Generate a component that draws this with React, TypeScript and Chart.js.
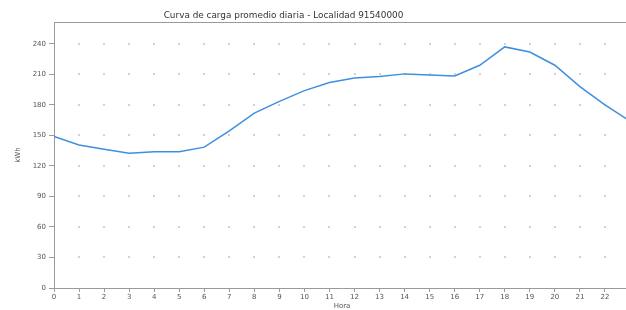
import React, { useEffect, useRef } from 'react';
import { Chart, registerables } from 'chart.js';

Chart.register(...registerables);

const chartTitle = 'Curva de carga promedio diaria - Localidad 91540000';
const xAxisTitle = 'Hora';
const yAxisTitle = 'kWh';
const hours = [0, 1, 2, 3, 4, 5, 6, 7, 8, 9, 10, 11, 12, 13, 14, 15, 16, 17, 18, 19, 20, 21, 22, 23];
const loadKwh = [149, 140.5, 136.5, 132.5, 134, 134, 138.5, 154.5, 172, 183.5, 194, 202, 206.5, 208, 210.5, 209.5, 208.5, 219, 237, 232, 219, 198, 180, 164];
const yMin = 0;
const yMax = 261.5;
const yStep = 30;

const FONT = '"DejaVu Sans", sans-serif';

const dotGridPlugin = {
  id: 'dotGrid',
  beforeDatasetsDraw(chart: any) {
    const { ctx, chartArea, scales } = chart;
    const xs = scales.x;
    const ys = scales.y;
    ctx.save();
    // top frame line
    ctx.strokeStyle = '#9a9a9a';
    ctx.lineWidth = 1;
    ctx.beginPath();
    ctx.moveTo(chartArea.left, Math.round(chartArea.top) + 0.5);
    ctx.lineTo(chartArea.right, Math.round(chartArea.top) + 0.5);
    ctx.stroke();
    ctx.fillStyle = '#d2d2d2';
    for (const xt of xs.ticks) {
      if (xt.value === 0) continue;
      const px = xs.getPixelForValue(xt.value);
      for (const yt of ys.ticks) {
        if (yt.value === 0) continue;
        const py = ys.getPixelForValue(yt.value);
        ctx.fillRect(Math.round(px) - 1, Math.round(py) - 1, 2, 2);
      }
    }
    ctx.restore();
  },
};

export default function App() {
  const canvasRef = useRef<HTMLCanvasElement | null>(null);

  useEffect(() => {
    document.body.style.margin = '0';
    const canvas = canvasRef.current;
    if (!canvas) return;
    const chart = new Chart(canvas, {
      type: 'line',
      data: {
        datasets: [
          {
            data: hours.map((h, i) => ({ x: h, y: loadKwh[i] })),
            borderColor: '#3f8fe0',
            borderWidth: 1.5,
            pointRadius: 0,
            fill: false,
            tension: 0,
          },
        ],
      },
      options: {
        animation: false,
        responsive: false,
        maintainAspectRatio: false,
        layout: { padding: { top: 22, left: 0, right: 10, bottom: 0 } },
        plugins: {
          legend: { display: false },
          title: { display: false },
          tooltip: { enabled: false },
        },
        scales: {
          x: {
            type: 'linear',
            min: 0,
            max: 23,
            afterFit: (s: any) => { s.height = 22; },
            ticks: {
              stepSize: 1,
              autoSkip: false,
              maxRotation: 0,
              padding: 1,
              color: '#555',
              font: { family: FONT, size: 7 },
            },
            grid: {
              drawOnChartArea: false,
              drawTicks: true,
              tickLength: 4,
              color: '#9a9a9a',
            },
            border: { display: true, color: '#9a9a9a', width: 1 },
            title: {
              display: true,
              text: xAxisTitle,
              color: '#555',
              font: { family: FONT, size: 7, lineHeight: 1 },
              padding: { top: 0, bottom: 0 },
            },
          },
          y: {
            type: 'linear',
            min: yMin,
            max: yMax,
            afterFit: (s: any) => { s.width = 54; },
            ticks: {
              stepSize: yStep,
              includeBounds: false,
              padding: 3,
              color: '#555',
              font: { family: FONT, size: 7 },
            },
            grid: {
              drawOnChartArea: false,
              drawTicks: true,
              tickLength: 5,
              color: '#9a9a9a',
            },
            border: { display: true, color: '#9a9a9a', width: 1 },
            title: {
              display: true,
              text: yAxisTitle,
              color: '#555',
              font: { family: FONT, size: 7, lineHeight: 1 },
              padding: { top: 14.5, bottom: 0 },
            },
          },
        },
      },
      plugins: [dotGridPlugin],
    });
    return () => chart.destroy();
  }, []);

  return (
    <div style={{ position: 'relative', width: 626, height: 310, overflow: 'hidden', background: '#fff' }}>
      <div
        style={{
          position: 'absolute',
          left: 0,
          width: 567,
          top: 10,
          textAlign: 'center',
          fontFamily: FONT,
          fontSize: 8.9,
          lineHeight: '11px',
          color: '#333',
          whiteSpace: 'nowrap',
        }}
      >
        {chartTitle}
      </div>
      <canvas ref={canvasRef} width={640} height={310} style={{ display: 'block' }} />
    </div>
  );
}
